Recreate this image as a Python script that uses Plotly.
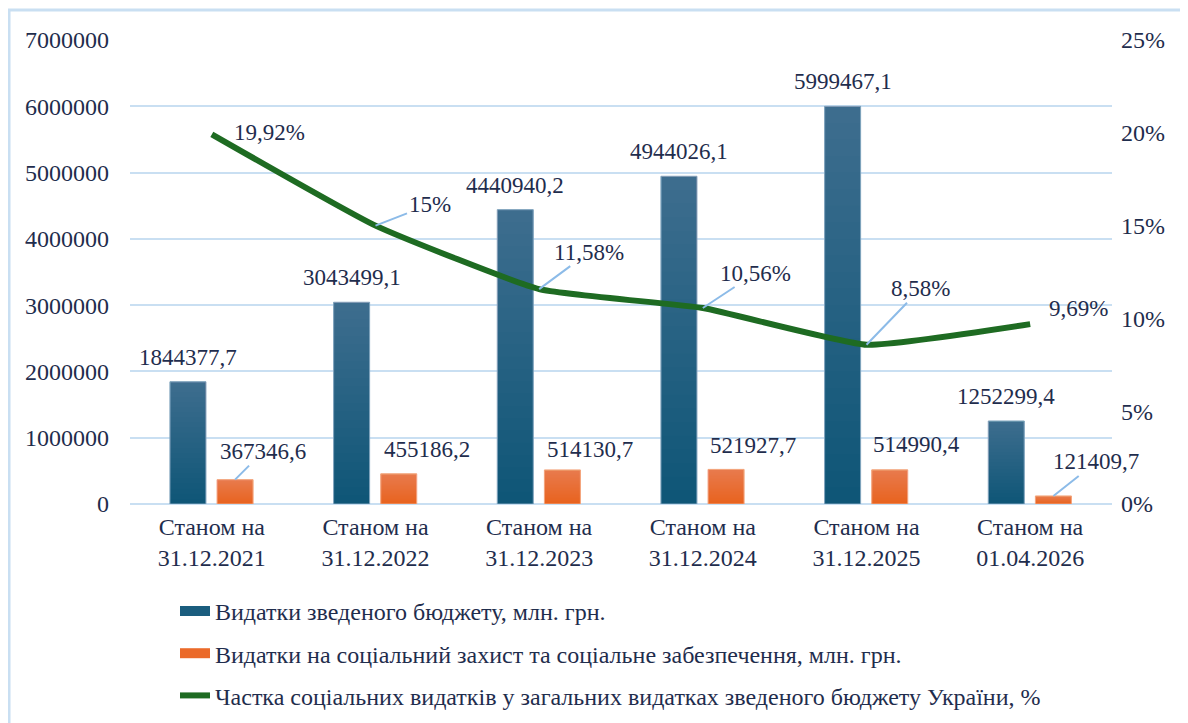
import plotly.graph_objects as go

categories = ["Станом на<br>31.12.2021", "Станом на<br>31.12.2022", "Станом на<br>31.12.2023",
              "Станом на<br>31.12.2024", "Станом на<br>31.12.2025", "Станом на<br>01.04.2026"]
budget = [1844377.7, 3043499.1, 4440940.2, 4944026.1, 5999467.1, 1252299.4]
social = [367346.6, 455186.2, 514130.7, 521927.7, 514990.4, 121409.7]
share = [19.92, 15.0, 11.58, 10.56, 8.58, 9.69]
share_labels = ["19,92%", "15%", "11,58%", "10,56%", "8,58%", "9,69%"]

name_budget = "Видатки зведеного бюджету, млн. грн."
name_social = "Видатки на соціальний захист та соціальне забезпечення, млн. грн."
name_share = "Частка соціальних видатків у загальних видатках зведеного бюджету України, %"

FONT = "Liberation Serif"
TXT = "#1f2d4d"
BLUE = "#0f5677"
ORANGE = "#e8631f"
GREEN = "#1e6b22"
GRID = "#c9dff2"
LEAD = "#8cbbe8"
LBL = 23
TICK = 24

BLUE_OFF, ORANGE_OFF, BW = -0.256, 0.032, 0.22
N_GRAD = 24

def fmt(v):
    return f"{v:.1f}".replace(".", ",")

fig = go.Figure()
fig.add_trace(go.Bar(x=categories, y=budget, name=name_budget, offset=BLUE_OFF, width=BW,
                     marker=dict(color=BLUE, line=dict(color="#7fa3bd", width=1)),
                     showlegend=False, legendgroup="a"))
fig.add_trace(go.Bar(x=categories, y=social, name=name_social, offset=ORANGE_OFF, width=BW,
                     marker=dict(color=ORANGE, line=dict(color="#f3a47c", width=1)),
                     showlegend=False, legendgroup="b"))
# soft vertical gradient (lighter towards the top), layered over the bars
for vals, off in ((budget, BLUE_OFF), (social, ORANGE_OFF)):
    for k in range(1, N_GRAD):
        f = k / N_GRAD
        fig.add_trace(go.Bar(x=categories, y=[v * (1 - f) for v in vals], base=[v * f for v in vals],
                             offset=off, width=BW, marker=dict(color="rgba(255,255,255,0.0125)", line=dict(width=0)),
                             showlegend=False, hoverinfo="skip"))
fig.add_trace(go.Scatter(x=categories, y=share, name=name_share, yaxis="y2", mode="lines",
                         line=dict(color=GREEN, width=6, shape="spline", smoothing=0.4),
                         legendgroup="c", legendrank=3))
# legend swatches for the bar series (wide rectangles, as in the original)
fig.add_trace(go.Scatter(x=[None], y=[None], mode="lines", name=name_budget,
                         line=dict(color="#1a5d7e", width=12), legendgroup="a", legendrank=1))
fig.add_trace(go.Scatter(x=[None], y=[None], mode="lines", name=name_social,
                         line=dict(color="#eb6a2a", width=12), legendgroup="b", legendrank=2))

annotations = []
for i, v in enumerate(budget):
    annotations.append(dict(x=i - 0.146, y=v, xref="x", yref="y", text=fmt(v), showarrow=False,
                            yanchor="bottom", yshift=10, font=dict(family=FONT, size=LBL, color=TXT)))

soc_off = [(28, -28, True), (28, -24, False), (28, -20, False), (27, -24, False), (27, -25, False), (43, -34, True)]
for i, v in enumerate(social):
    dx, dy, lead = soc_off[i]
    if lead:
        annotations.append(dict(x=i + 0.142, y=v, xref="x", yref="y", text=fmt(v), showarrow=True,
                                arrowhead=0, arrowwidth=2, arrowcolor=LEAD, ax=dx, ay=dy,
                                font=dict(family=FONT, size=LBL, color=TXT)))
    else:
        annotations.append(dict(x=i + 0.142, y=v, xref="x", yref="y", text=fmt(v), showarrow=False,
                                xshift=dx, yshift=-dy, font=dict(family=FONT, size=LBL, color=TXT)))

line_off = [(58, -2, False), (54, -21, True), (50, -37, True), (53, -35, True), (54, -56, True), (48, -16, False)]
for i, v in enumerate(share):
    dx, dy, lead = line_off[i]
    if lead:
        annotations.append(dict(x=i, y=v, xref="x", yref="y2", text=share_labels[i], showarrow=True,
                                arrowhead=0, arrowwidth=2, arrowcolor=LEAD, ax=dx, ay=dy,
                                font=dict(family=FONT, size=LBL, color=TXT)))
    else:
        annotations.append(dict(x=i, y=v, xref="x", yref="y2", text=share_labels[i], showarrow=False,
                                xshift=dx, yshift=-dy, font=dict(family=FONT, size=LBL, color=TXT)))

fig.update_layout(
    width=1180, height=715,
    margin=dict(l=122, r=76, t=32, b=219, autoexpand=False),
    paper_bgcolor="white", plot_bgcolor="white",
    font=dict(family=FONT, size=TICK, color=TXT),
    barmode="overlay",
    showlegend=True,
    legend=dict(x=0.0458, y=-0.183, xanchor="left", yanchor="top", orientation="v",
                font=dict(family=FONT, size=TICK, color=TXT), tracegroupgap=8,
                bgcolor="rgba(0,0,0,0)"),
    xaxis=dict(type="category", range=[-0.5, 5.5], showgrid=False, showline=False, ticks="",
               automargin=False, ticklabelstandoff=6, tickfont=dict(family=FONT, size=TICK, color=TXT)),
    yaxis=dict(range=[0, 7000000], dtick=1000000, tickformat="d", showgrid=True, gridcolor=GRID,
               gridwidth=2, zeroline=True, zerolinecolor=GRID, zerolinewidth=2, showline=False,
               automargin=False, ticklabelstandoff=20, tickfont=dict(family=FONT, size=TICK, color=TXT)),
    yaxis2=dict(range=[0, 25], dtick=5, ticksuffix="%", overlaying="y", side="right",
                showgrid=False, zeroline=False, showline=False, ticklabelstandoff=8,
                automargin=False, tickfont=dict(family=FONT, size=TICK, color=TXT)),
    annotations=annotations,
    shapes=[dict(type="rect", xref="paper", yref="paper", x0=-0.1232, x1=1.2, y0=-0.6, y1=1.0647,
                 line=dict(color=GRID, width=3), fillcolor="rgba(0,0,0,0)", layer="below")],
)

fig.write_html("out.html")
